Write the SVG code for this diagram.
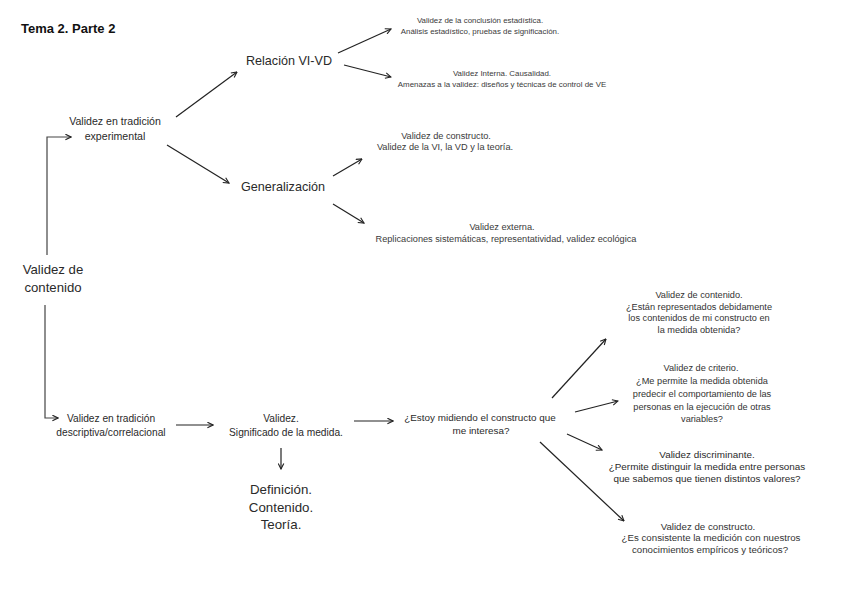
<svg xmlns="http://www.w3.org/2000/svg" width="848" height="599" viewBox="0 0 848 599">
<defs>
<marker id="ah" viewBox="0 0 10 10" refX="9" refY="5" markerWidth="7" markerHeight="7" markerUnits="userSpaceOnUse" orient="auto">
<path d="M1,1 L9,5 L1,9" fill="none" stroke="#222" stroke-width="1.6"/>
</marker>
</defs>
<style>
text{font-family:"Liberation Sans",Arial,sans-serif;fill:#2a2a2a;text-anchor:middle}
.t{font-weight:bold;text-anchor:start;font-size:13px;fill:#111}
.big{font-size:12.6px}
.mid{font-size:10.2px}
.sm{font-size:7.9px;fill:#3a3a3a}
.s8{font-size:9.2px;fill:#3a3a3a}
.r9{font-size:9.2px;fill:#333}
.r10{font-size:9.9px;fill:#2a2a2a}
.c{stroke:#222;stroke-width:1.2;fill:none}
.g{stroke:#444;stroke-width:1.2;fill:none}
</style>
<rect width="848" height="599" fill="#fff"/>
<text class="t" x="21" y="33">Tema 2. Parte 2</text>

<g id="connectors">
<polyline class="g" points="47,255 47,137 71,137" marker-end="url(#ah)"/>
<polyline class="g" points="45,305 45,418 58,418" marker-end="url(#ah)"/>
<line class="c" x1="176" y1="117" x2="237" y2="72" marker-end="url(#ah)"/>
<line class="c" x1="167" y1="145" x2="229" y2="183" marker-end="url(#ah)"/>
<line class="c" x1="338" y1="53" x2="391" y2="29" marker-end="url(#ah)"/>
<line class="c" x1="344" y1="65" x2="391" y2="77" marker-end="url(#ah)"/>
<line class="c" x1="333" y1="176" x2="362" y2="159" marker-end="url(#ah)"/>
<line class="c" x1="333" y1="204" x2="364" y2="223" marker-end="url(#ah)"/>
<line class="c" x1="176" y1="425" x2="213" y2="425" marker-end="url(#ah)"/>
<line class="c" x1="354" y1="421" x2="393" y2="421" marker-end="url(#ah)"/>
<line class="c" x1="281" y1="448" x2="281" y2="469" marker-end="url(#ah)"/>
<line class="c" x1="552" y1="398" x2="606" y2="339" marker-end="url(#ah)"/>
<line class="c" x1="575" y1="412" x2="618" y2="401" marker-end="url(#ah)"/>
<line class="c" x1="567" y1="434" x2="602" y2="450" marker-end="url(#ah)"/>
<line class="c" x1="540" y1="442" x2="624" y2="521" marker-end="url(#ah)"/>
</g>

<g id="n-contenido">
<text x="53" y="274" style="font-size:13.2px">Validez de</text>
<text x="53" y="292" style="font-size:13.2px">contenido</text>
</g>
<g id="n-experimental">
<text x="115" y="125" style="font-size:10.6px">Validez en tradición</text>
<text x="115" y="140" style="font-size:10.6px">experimental</text>
</g>
<g id="n-relacion">
<text class="big" x="289" y="65">Relación VI-VD</text>
</g>
<g id="n-generalizacion">
<text class="big" x="283" y="191">Generalización</text>
</g>
<g id="n-conclusion">
<text class="sm" x="480" y="23">Validez de la conclusión estadística.</text>
<text class="sm" x="480" y="34">Análisis estadístico, pruebas de significación.</text>
</g>
<g id="n-interna">
<text class="sm" x="502" y="76">Validez Interna. Causalidad.</text>
<text class="sm" x="502" y="87">Amenazas a la validez: diseños y técnicas de control de VE</text>
</g>
<g id="n-constructo1">
<text class="s8" x="446" y="139">Validez de constructo.</text>
<text class="s8" x="445" y="150">Validez de la VI, la VD y la teoría.</text>
</g>
<g id="n-externa">
<text class="s8" x="502" y="230">Validez externa.</text>
<text class="s8" x="506" y="242">Replicaciones sistemáticas, representatividad, validez ecológica</text>
</g>
<g id="n-descriptiva">
<text class="mid" x="111" y="422">Validez en tradición</text>
<text class="mid" x="111" y="436">descriptiva/correlacional</text>
</g>
<g id="n-validez">
<text class="mid" x="281" y="422">Validez.</text>
<text class="mid" x="286" y="436">Significado de la medida.</text>
</g>
<g id="n-definicion">
<text x="281" y="494" style="font-size:13.3px">Definición.</text>
<text x="281" y="512" style="font-size:13.3px">Contenido.</text>
<text x="281" y="529" style="font-size:13.3px">Teoría.</text>
</g>
<g id="n-estoy">
<text class="r10" x="480" y="421">¿Estoy midiendo el constructo que</text>
<text class="r10" x="481" y="434">me interesa?</text>
</g>
<g id="n-vcontenido">
<text class="r9" x="699" y="298">Validez de contenido.</text>
<text class="r9" x="699" y="310">¿Están representados debidamente</text>
<text class="r9" x="699" y="321">los contenidos de mi constructo en</text>
<text class="r9" x="699" y="333">la medida obtenida?</text>
</g>
<g id="n-criterio">
<text class="r9" x="701" y="371">Validez de criterio.</text>
<text class="r9" x="702" y="384">¿Me permite la medida obtenida</text>
<text class="r9" x="702" y="397">predecir el comportamiento de las</text>
<text class="r9" x="702" y="410">personas en la ejecución de otras</text>
<text class="r9" x="702" y="422">variables?</text>
</g>
<g id="n-discriminante">
<text class="r10" x="707" y="458">Validez discriminante.</text>
<text class="r10" x="707" y="470">¿Permite distinguir la medida entre personas</text>
<text class="r10" x="707" y="482">que sabemos que tienen distintos valores?</text>
</g>
<g id="n-constructo2">
<text class="r9" x="708" y="530" style="font-size:9.7px">Validez de constructo.</text>
<text class="r9" x="711" y="541" style="font-size:9.7px">¿Es consistente la medición con nuestros</text>
<text class="r9" x="710" y="553" style="font-size:9.7px">conocimientos empíricos y teóricos?</text>
</g>
</svg>
